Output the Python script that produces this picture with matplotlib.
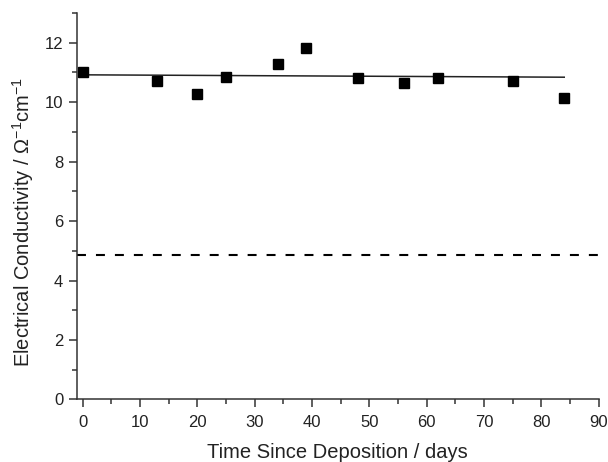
import matplotlib
matplotlib.use("Agg")
import matplotlib.pyplot as plt
from matplotlib.ticker import MultipleLocator

plt.rcParams['font.family'] = ['Liberation Sans', 'DejaVu Sans']
plt.rcParams['mathtext.fontset'] = 'custom'
plt.rcParams['mathtext.rm'] = 'Liberation Sans'
plt.rcParams['mathtext.it'] = 'Liberation Sans:italic'

days = [0, 13, 20, 25, 34, 39, 48, 56, 62, 75, 84]
conductivity = [11.03, 10.70, 10.27, 10.83, 11.30, 11.83, 10.80, 10.63, 10.82, 10.72, 10.13]
fit_x = [0, 84]
fit_y = [10.92, 10.84]
reference_level = 4.87

fig = plt.figure(figsize=(6.08, 4.62), dpi=100)
ax = fig.add_axes([0.1266, 0.1353, 0.858, 0.8366])

ax.axhline(reference_level, color='black', lw=1.5, dashes=(4.3, 4.8))
ax.plot(fit_x, fit_y, color='#222222', lw=1.1)
ax.plot(days, conductivity, 's', color='black', markersize=7)

ax.set_xlim(-1, 90)
ax.set_ylim(0, 13)
ax.xaxis.set_major_locator(MultipleLocator(10))
ax.xaxis.set_minor_locator(MultipleLocator(5))
ax.yaxis.set_major_locator(MultipleLocator(2))
ax.yaxis.set_minor_locator(MultipleLocator(1))

for s in ['top', 'right']:
    ax.spines[s].set_visible(False)
for s in ['left', 'bottom']:
    ax.spines[s].set_color('#333333')
    ax.spines[s].set_linewidth(1.1)

ax.tick_params(which='major', direction='out', length=5.8, width=1.1, color='#333333',
               labelsize=12, labelcolor='#222222')
ax.tick_params(axis='x', which='major', pad=5.5)
ax.tick_params(axis='y', which='major', pad=4)
ax.tick_params(which='minor', direction='out', length=3.6, width=1.1, color='#333333')

ax.set_xlabel('Time Since Deposition / days', fontsize=14.5, color='#222222', labelpad=9)
ax.set_ylabel(r'Electrical Conductivity / $\mathregular{\Omega^{-1}cm^{-1}}$', fontsize=14.5,
              color='#222222', labelpad=6)
ax.yaxis.label.set_y(0.459)

fig.savefig('out.png', dpi=100)
